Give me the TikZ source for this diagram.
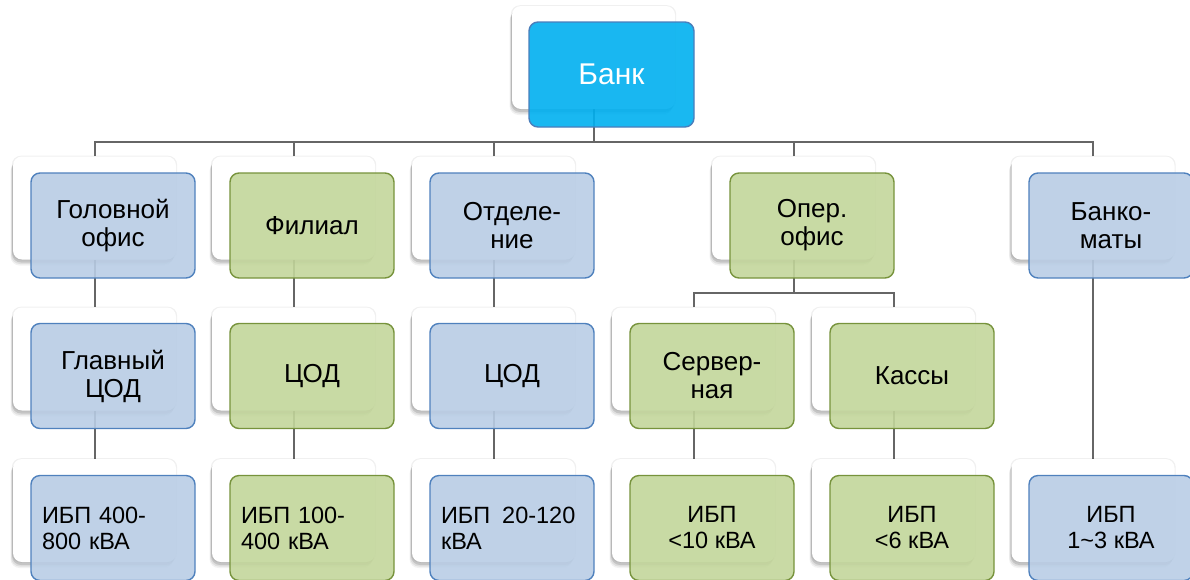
\documentclass[tikz,border=0pt]{standalone}
\usepackage{fontspec}
\setmainfont{Liberation Sans}
\usetikzlibrary{shadows}
\definecolor{fillBlue}{HTML}{B9CDE5}
\definecolor{bordBlue}{HTML}{4F81BD}
\definecolor{fillGreen}{HTML}{C3D69B}
\definecolor{bordGreen}{HTML}{77933C}
\definecolor{fillBank}{HTML}{00B0F0}
\definecolor{bordBank}{HTML}{4A7EBB}
\definecolor{lineGray}{HTML}{666666}
\pgfdeclarelayer{bg}
\pgfsetlayers{bg,main}
\tikzset{
  wbox/.style={rounded corners=9pt, fill=white, minimum width=163pt, minimum height=103pt, inner sep=0pt,
    general shadow={shadow xshift=0pt, shadow yshift=0pt, shadow scale=1.015, fill=black, opacity=0.06},
    general shadow={shadow xshift=-2.5pt, shadow yshift=-6pt, fill=black, opacity=0.05},
    general shadow={shadow xshift=-2pt, shadow yshift=-4.5pt, fill=black, opacity=0.08},
    general shadow={shadow xshift=-1pt, shadow yshift=-3pt, fill=black, opacity=0.12}},
  cbase/.style={rounded corners=9pt, minimum width=164pt, minimum height=105pt, inner sep=0pt,
    line width=1.4pt, fill opacity=0.9, draw opacity=1, text opacity=1, align=center,
    font=\fontsize{26}{28}\selectfont},
  cblue/.style={cbase, draw=bordBlue, fill=fillBlue},
  cgreen/.style={cbase, draw=bordGreen, fill=fillGreen},
  cbank/.style={cbase, draw=bordBank, fill=fillBank, text=white, minimum width=165pt, font=\fontsize{30}{32}\selectfont},
  small/.style={font=\fontsize{23.5}{26}\selectfont},
  leftt/.style={small, text width=142pt, align=left},
  conn/.style={draw=lineGray, line width=2pt},
}
\begin{document}
\begin{tikzpicture}[x=1pt,y=-1pt]
\useasboundingbox (0,0) rectangle (1190,579);
% white boxes
\node[wbox] (wB) at (593.5,57.5) {};
\foreach \n/\x in {21/94.5,22/293.5,23/493.5,24/793.5,25/1093}{\node[wbox] (w\n) at (\x,208) {};}
\foreach \n/\x in {31/94.5,32/293.5,33/493.5,34/693.5,35/893.5}{\node[wbox] (w\n) at (\x,359) {};}
\foreach \n/\x in {41/94.5,42/293.5,43/493.5,44/693.5,45/893.5,46/1093}{\node[wbox] (w\n) at (\x,510.5) {};}
% connectors
\coordinate (bus) at (593.5,141.5);
\coordinate (opbus) at (793.5,293);
\begin{pgfonlayer}{bg}
\draw[conn] (wB.south) -- (bus);
\foreach \n in {21,22,23,24,25}{\draw[conn] (w\n.north) |- (bus);}
\draw[conn] (w21.south) -- (w31.north);
\draw[conn] (w31.south) -- (w41.north);
\draw[conn] (w22.south) -- (w32.north);
\draw[conn] (w32.south) -- (w42.north);
\draw[conn] (w23.south) -- (w33.north);
\draw[conn] (w33.south) -- (w43.north);
\draw[conn] (w24.south) -- (opbus);
\draw[conn] (w34.north) |- (opbus);
\draw[conn] (w35.north) |- (opbus);
\draw[conn] (w34.south) -- (w44.north);
\draw[conn] (w35.south) -- (w45.north);
\draw[conn] (w25.south) -- (w46.north);
\end{pgfonlayer}
% coloured boxes
\node[cbank] (cB) at (611.5,74.5) {Банк};
\node[cblue]  (c21) at (113,225.5) {Головной\\офис};
\node[cgreen] (c22) at (312,225.5) {Филиал};
\node[cblue]  (c23) at (512,225.5) {Отделе-\\ние};
\node[cgreen] (c24) at (812,225.5) {Опер.\\офис};
\node[cblue]  (c25) at (1111,225.5) {Банко-\\маты};
\node[cblue]  (c31) at (113,376) {Главный\\ЦОД};
\node[cgreen] (c32) at (312,376) {ЦОД};
\node[cblue]  (c33) at (512,376) {ЦОД};
\node[cgreen] (c34) at (712,376) {Сервер-\\ная};
\node[cgreen] (c35) at (912,376) {Кассы};
\node[cblue, leftt]  (c41) at (113,528) {ИБП 400-\\800 кВА};
\node[cgreen, leftt] (c42) at (312,528) {ИБП 100-\\400 кВА};
\node[cblue, leftt]  (c43) at (512,528) {ИБП\hspace{12pt}20-120\\кВА};
\node[cgreen, small] (c44) at (712,528) {ИБП\\<10 кВА};
\node[cgreen, small] (c45) at (912,528) {ИБП\\<6 кВА};
\node[cblue, small]  (c46) at (1111,528) {ИБП\\1\textasciitilde3 кВА};
\end{tikzpicture}
\end{document}
